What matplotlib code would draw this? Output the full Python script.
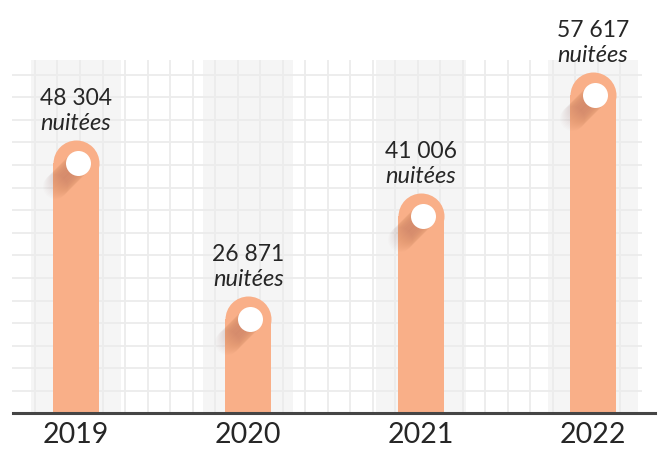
import numpy as np
import matplotlib
matplotlib.use('Agg')
import matplotlib.pyplot as plt
from matplotlib.lines import Line2D
from matplotlib.patches import Rectangle
from matplotlib.transforms import offset_copy

# données
annees = ['2019', '2020', '2021', '2022']
nuitees = [48304, 26871, 41006, 57617]
etiquettes = ['48 304', '26 871', '41 006', '57 617']
unite = 'nuitées'

BAR = '#f9af88'
TXT = '#262626'
FONT = ['Lato', 'DejaVu Sans']
W, H = 660, 450

fig = plt.figure(figsize=(W / 100, H / 100), dpi=100)
fig.patch.set_facecolor('white')

# zone du graphique en pixels : x 12..642, y 60..412
ax = fig.add_axes([12 / W, (H - 412) / H, 630 / W, 352 / H])
ymin, ymax = 11000, 59300
ax.set_ylim(ymin, ymax)
ax.set_xlim(-0.371, 3.284)
for s in ax.spines.values():
    s.set_visible(False)
ax.set_yticks([])

x = np.arange(len(annees))
px_y = 352 / (ymax - ymin)      # pixels par nuitée
px_x = 630 / (3.284 + 0.371)    # pixels par unité x

# bandes grises derrière chaque année
ax.bar(x, ymax - ymin, bottom=ymin, width=90 / px_x, color='#f5f5f5', zorder=0)

# quadrillage
for k in range(15):
    f = (21 + 22.6 * k) / 352
    ax.plot([0, 1], [f, f], transform=ax.transAxes, color='#ececec', lw=1.3, zorder=1)
for k in range(28):
    f = (23 + 22.5 * k) / 630
    ax.plot([f, f], [0, 1], transform=ax.transAxes, color='#ececec', lw=1.3, zorder=1)

# barres arrondies
bw = 46 / px_x
r = 23 / px_y
for xi, v in zip(x, nuitees):
    ax.add_patch(Rectangle((xi - bw / 2, ymin), bw, v - r - ymin, color=BAR, lw=0, zorder=2))
    ax.plot(xi, v - r, 'o', ms=46 * 0.72, color=BAR, mec='none', zorder=2)
    # ombre portée
    for d in range(1, 24):
        tr = offset_copy(ax.transData, fig=fig, x=-d, y=-d, units='dots')
        ax.plot(xi + 2 / px_x, v - r, 'o', ms=25 * 0.72, color='#5a3020', alpha=0.011,
                mec='none', transform=tr, zorder=3)
    ax.plot(xi + 2 / px_x, v - r, 'o', ms=25 * 0.72, color='white', mec='none', zorder=4)

    ax.annotate(unite, (xi, v), xytext=(0, 6 * 0.72), textcoords='offset points',
                ha='center', va='bottom', fontsize=17, color=TXT, style='italic',
                family=FONT, annotation_clip=False)

for xi, v, lab in zip(x, nuitees, etiquettes):
    ax.annotate(lab, (xi, v), xytext=(0, 31 * 0.72), textcoords='offset points',
                ha='center', va='bottom', fontsize=16.5, color=TXT,
                family=FONT, annotation_clip=False)

ax.set_xticks(x)
ax.set_xticklabels(annees, fontsize=20.5, color=TXT, family=FONT)
ax.tick_params(axis='x', length=0, pad=7)

# ligne de base
fig.add_artist(Line2D([13 / W, 655 / W], [(H - 413) / H] * 2, lw=2.2, color='#454545'))

fig.savefig('out.png', dpi=100)
